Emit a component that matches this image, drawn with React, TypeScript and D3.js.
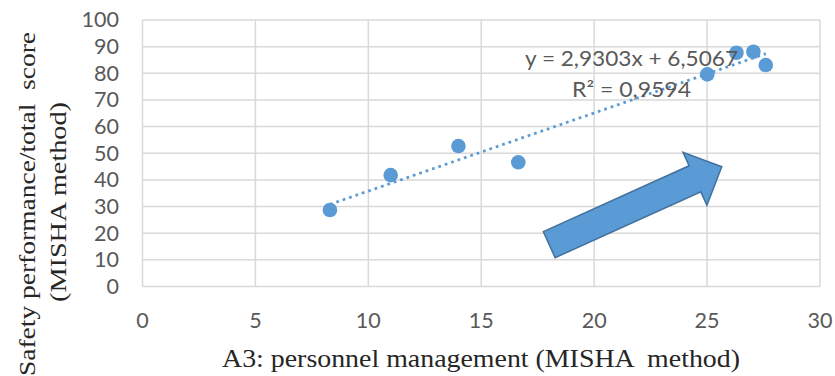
import React from "react";
import * as d3 from "d3";

const xValues = [8.3, 10.99, 13.99, 16.64, 25.01, 26.3, 27.05, 27.6];
const yValues = [28.7, 41.8, 52.7, 46.6, 79.6, 87.7, 88.1, 83.1];
const xTicks = [0, 5, 10, 15, 20, 25, 30];
const yTicks = [0, 10, 20, 30, 40, 50, 60, 70, 80, 90, 100];
const slope = 2.9303;
const intercept = 6.5067;
const equationLines = ["y = 2,9303x + 6,5067", "R² = 0,9594"];
const arrowTail = [18.01, 15.7];
const arrowTip = [25.65, 44.95];
const xTitle = "A3: personnel management (MISHA  method)";
const yTitleLines = ["Safety performance/total  score", "(MISHA method)"];

const W = 835;
const H = 376;
const BLUE = "#5B9BD5";
const GRID = "#D9D9D9";
const TXT = "#595959";
const TICK_FONT = "Lato, 'Liberation Sans', sans-serif";
const SERIF = "'Liberation Serif', 'Times New Roman', serif";

export default function App() {
  const x = d3.scaleLinear().domain([0, 30]).range([142.5, 820]);
  const y = d3.scaleLinear().domain([0, 100]).range([286.5, 20]);

  const xMin = d3.min(xValues) as number;
  const xMax = d3.max(xValues) as number;
  const trend = d3.line<number>()
    .x((v) => x(v))
    .y((v) => y(slope * v + intercept));

  const t = [x(arrowTail[0]), y(arrowTail[1])];
  const p = [x(arrowTip[0]), y(arrowTip[1])];
  const dx = p[0] - t[0];
  const dy = p[1] - t[1];
  const len = Math.hypot(dx, dy);
  const u = [dx / len, dy / len];
  const n = [-u[1], u[0]];
  const shaftHW = 14.3;
  const headHW = 29;
  const headLen = 29.4;
  const pt = (a: number, b: number) => [t[0] + u[0] * a + n[0] * b, t[1] + u[1] * a + n[1] * b];
  const arrowPts = [
    pt(0, -shaftHW),
    pt(len - headLen, -shaftHW),
    pt(len - headLen, -headHW),
    pt(len, 0),
    pt(len - headLen, headHW),
    pt(len - headLen, shaftHW),
    pt(0, shaftHW),
  ];
  const arrowPath = d3.line()(arrowPts as [number, number][]) + "Z";

  return (
    <svg
      width={W}
      height={H}
      style={{ position: "absolute", left: 0, top: 0, background: "#fff" }}
    >
      <rect width={W} height={H} fill="#fff" />
      {yTicks.map((v) => (
        <line key={"gy" + v} x1={x(0)} x2={x(30)} y1={y(v)} y2={y(v)} stroke={GRID} strokeWidth={1.5} />
      ))}
      {xTicks.map((v) => (
        <line key={"gx" + v} x1={x(v)} x2={x(v)} y1={y(0)} y2={y(100)} stroke={GRID} strokeWidth={1.5} />
      ))}
      {yTicks.map((v) => (
        <text key={"ty" + v} x={119} y={y(v) + 7.3} textAnchor="end" fontFamily={TICK_FONT} fontSize={20.5} fill={TXT}
          textLength={String(v).length * 12.5} lengthAdjust="spacingAndGlyphs">
          {v}
        </text>
      ))}
      {xTicks.map((v) => (
        <text key={"tx" + v} x={x(v)} y={328} textAnchor="middle" fontFamily={TICK_FONT} fontSize={20.5} fill={TXT}
          textLength={String(v).length * 12.5} lengthAdjust="spacingAndGlyphs">
          {v}
        </text>
      ))}
      <path d={arrowPath} fill={BLUE} stroke="#41719C" strokeWidth={1.5} strokeLinejoin="miter" />
      <path
        d={trend([xMin, xMax]) || ""}
        fill="none"
        stroke={BLUE}
        strokeWidth={2.75}
        strokeDasharray="2.75 4"
      />
      {xValues.map((v, i) => (
        <circle key={"pt" + i} cx={x(v)} cy={y(yValues[i])} r={7.3} fill={BLUE} />
      ))}
      {equationLines.map((s, i) => (
        <text key={"eq" + i} x={631.5} y={66 + i * 30.5} textAnchor="middle" fontFamily={TICK_FONT} fontSize={21} fill={TXT}
          textLength={i === 0 ? 213 : 119} lengthAdjust="spacingAndGlyphs">
          {s}
        </text>
      ))}
      <text
        x={481}
        y={367}
        textAnchor="middle"
        fontFamily={SERIF}
        fontSize={25}
        fill="#262626"
        textLength={518}
        lengthAdjust="spacingAndGlyphs"
        style={{ whiteSpace: "pre" }}
      >
        {xTitle}
      </text>
      {yTitleLines.map((s, i) => (
        <text
          key={"yt" + i}
          transform={`translate(${35 + i * 31},${i === 0 ? 204 : 202}) rotate(-90)`}
          textAnchor="middle"
          fontFamily={SERIF}
          fontSize={23}
          fill="#262626"
          textLength={i === 0 ? 344 : 200}
          lengthAdjust="spacingAndGlyphs"
          style={{ whiteSpace: "pre" }}
        >
          {s}
        </text>
      ))}
    </svg>
  );
}
